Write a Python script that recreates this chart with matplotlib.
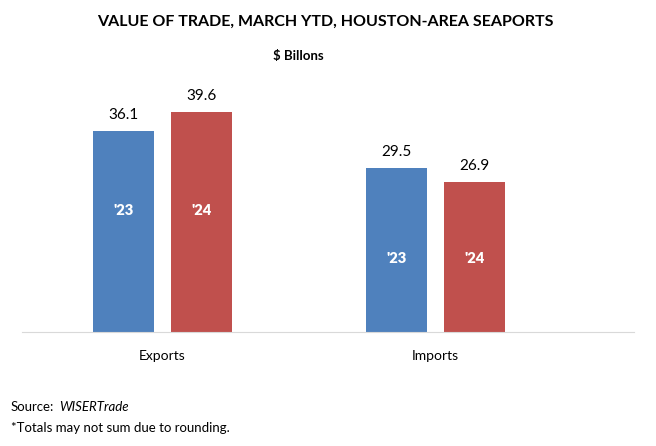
import numpy as np
import matplotlib
matplotlib.use('Agg')
import matplotlib.pyplot as plt

categories = ['Exports', 'Imports']
years = ["'23", "'24"]
values_23 = [36.1, 29.5]
values_24 = [39.6, 26.9]
# height (in $B) where the year tag sits inside each bar group
tag_heights = [21.9, 13.3]

plt.rcParams['font.family'] = ['Lato', 'DejaVu Sans']

blue = '#4F81BD'
red = '#C0504D'

fig = plt.figure(figsize=(6.56, 4.46), dpi=100)
ax = fig.add_axes([22 / 656, 114 / 446, 612 / 656, 272 / 446])

x = np.arange(len(categories))
w = 0.2234
off = 0.1429

b1 = ax.bar(x - off, values_23, w, color=blue)
b2 = ax.bar(x + off, values_24, w, color=red)

for bars, vals in [(b1, values_23), (b2, values_24)]:
    for rect, v in zip(bars, vals):
        ax.text(rect.get_x() + rect.get_width() / 2, v + 1.6, f'{v:.1f}',
                ha='center', va='bottom', fontsize=11, color='black')

for i in range(len(categories)):
    ax.text(x[i] - off, tag_heights[i], years[0], ha='center', va='center',
            fontsize=10.5, fontweight='heavy', color='white')
    ax.text(x[i] + off, tag_heights[i], years[1], ha='center', va='center',
            fontsize=10.5, fontweight='heavy', color='white')

ax.set_xlim(-0.5147, 1.727)
ax.set_ylim(0, 48.9)
ax.set_xticks(x)
ax.set_xticklabels(categories, fontsize=10)
ax.tick_params(axis='x', length=0, pad=13)
ax.set_yticks([])
for s in ['top', 'right', 'left']:
    ax.spines[s].set_visible(False)
ax.spines['bottom'].set_color('#D9D9D9')

fig.text(325 / 656, 1 - 22 / 446, 'VALUE OF TRADE, MARCH YTD, HOUSTON-AREA SEAPORTS',
         ha='center', va='center', fontsize=11.5, fontweight='bold')
fig.text(298 / 656, 1 - 56 / 446, '$ Billons', ha='center', va='center',
         fontsize=9.5, fontweight='bold')

fig.text(11 / 656, 1 - 407 / 446, 'Source:', ha='left', va='center', fontsize=9.5)
fig.text(59 / 656, 1 - 407 / 446, 'WISERTrade', ha='left', va='center', fontsize=9.5,
         style='italic')
fig.text(11 / 656, 1 - 428 / 446, '*Totals may not sum due to rounding.', ha='left',
         va='center', fontsize=9.5)

fig.savefig('out.png', dpi=100)
